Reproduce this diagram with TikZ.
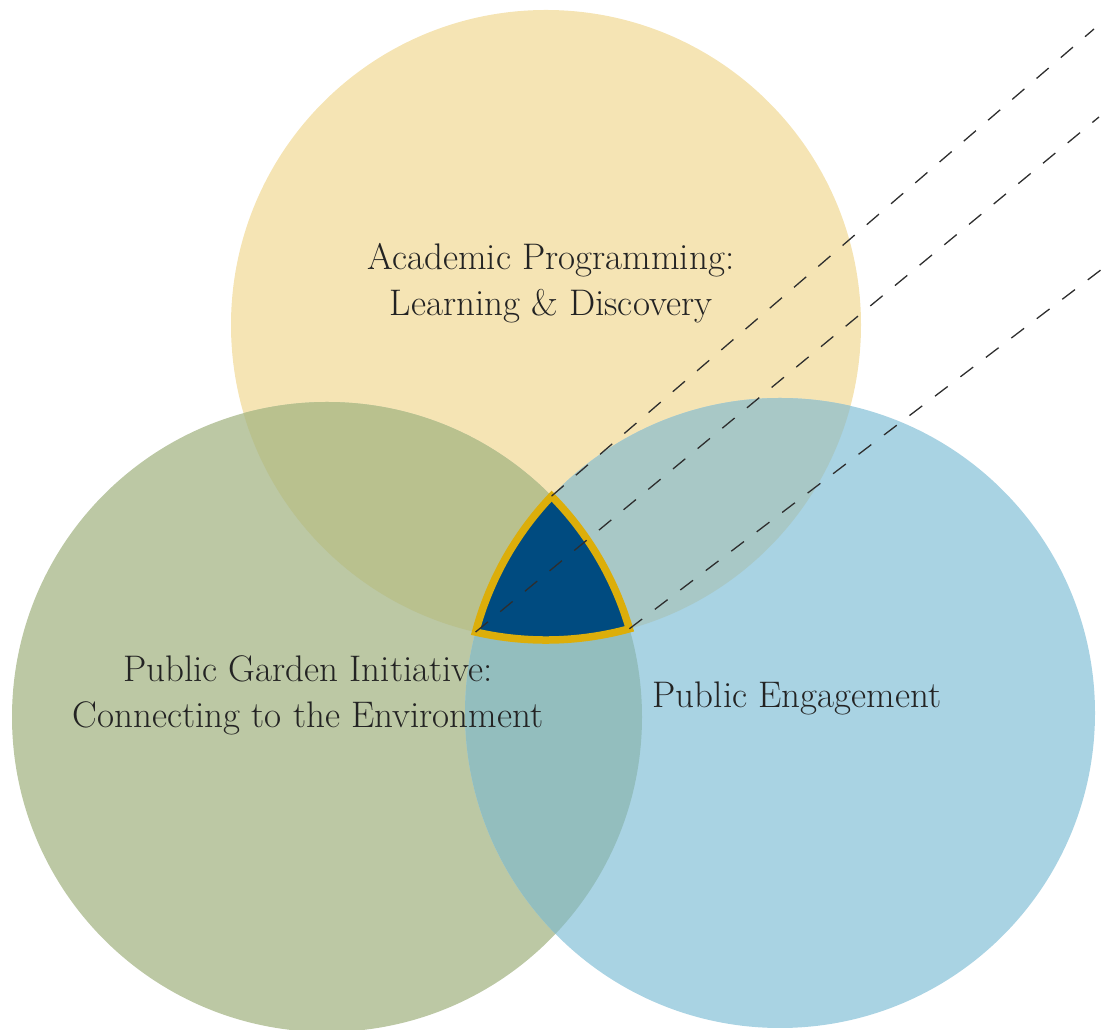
\documentclass[tikz,border=0pt]{standalone}
\usepackage{fontspec}
\usetikzlibrary{calc}
\definecolor{ycol}{HTML}{F5E4B4}
\definecolor{gcol}{HTML}{BCC8A4}
\definecolor{bcol}{HTML}{A9D3E3}
\definecolor{ygcol}{HTML}{B9C18E}
\definecolor{ybcol}{HTML}{A8C8C6}
\definecolor{gbcol}{HTML}{93BEBE}
\definecolor{navy}{HTML}{004B80}
\definecolor{gold}{HTML}{DCAE0A}
\definecolor{txt}{HTML}{232323}
\definecolor{dashc}{HTML}{2E2E2E}
\tikzset{
  lbl/.style={text=txt, align=center, font=\fontsize{37}{46}\selectfont, inner sep=0pt},
  ray/.style={draw=dashc, line width=1.3pt, dash pattern=on 16pt off 16pt},
  rim/.style={draw=gold, line width=7.5pt, line join=miter, miter limit=4}
}
\begin{document}
\begin{tikzpicture}[x=1pt,y=1pt]
\useasboundingbox (0,0) rectangle (1106,1030);
\coordinate (Yc) at (546,705);
\coordinate (Gc) at (327,313);
\coordinate (Bc) at (780,317);
\coordinate (T) at (551.57,533.89);
\coordinate (L) at (475.58,397.97);
\coordinate (R) at (629.38,401.24);
\coordinate (S) at ($(Bc)+(150:315pt)$);
\coordinate (e1) at (1094,1001);
\coordinate (e2) at (1099,913);
\coordinate (e3) at (1106,764);
% base circles
\fill[ycol] (Yc) circle[radius=315pt];
\fill[gcol] (Gc) circle[radius=315pt];
\fill[bcol] (Bc) circle[radius=315pt];
% pairwise overlaps
\begin{scope}
  \clip (Yc) circle[radius=315pt];
  \fill[ygcol] (Gc) circle[radius=315pt];
  \fill[ybcol] (Bc) circle[radius=315pt];
\end{scope}
\begin{scope}
  \clip (Gc) circle[radius=315pt];
  \fill[gbcol] (Bc) circle[radius=315pt];
\end{scope}
% central region
\fill[navy] (T) arc[start angle=136.48, end angle=165.11, radius=315pt]
  arc[start angle=-102.92, end angle=-74.65, radius=315pt]
  arc[start angle=16.27, end angle=44.53, radius=315pt] -- cycle;
\draw[rim] (S) arc[start angle=150, end angle=165.11, radius=315pt]
  arc[start angle=-102.92, end angle=-74.65, radius=315pt]
  arc[start angle=16.27, end angle=44.53, radius=315pt]
  arc[start angle=136.48, end angle=155, radius=315pt];
% labels
\node[lbl] (acad) at (551,747) {Academic Programming:\\Learning \& Discovery};
\node[lbl] (garden) at (308,335) {Public Garden Initiative:\\Connecting to the Environment};
\node[lbl] (engage) at (797,332) {Public Engagement};
% dashed rays
\draw[ray] (T) -- (e1);
\draw[ray] (L) -- (e2);
\draw[ray] (R) -- (e3);
\end{tikzpicture}
\end{document}
